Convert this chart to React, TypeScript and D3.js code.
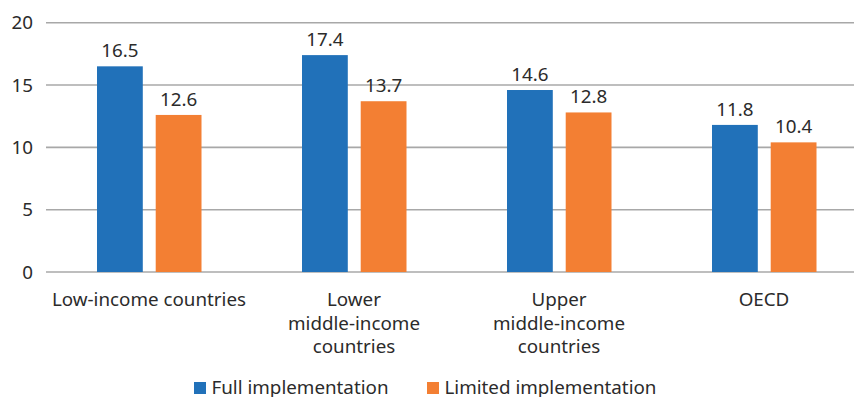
import React from "react";
import * as d3 from "d3";

const categories: string[][] = [
  ["Low-income countries"],
  ["Lower", "middle-income", "countries"],
  ["Upper", "middle-income", "countries"],
  ["OECD"],
];
const seriesNames = ["Full implementation", "Limited implementation"];
const fullValues = [16.5, 17.4, 14.6, 11.8];
const limitedValues = [12.6, 13.7, 12.8, 10.4];
const yTicks = [0, 5, 10, 15, 20];

const colors = ["#2171b9", "#f37f33"];
const W = 854;
const H = 397;
const FONT = "'Noto Sans', 'Open Sans', sans-serif";
const FS = 18.8;

export default function App() {
  const keys = categories.map((c) => c.join(" "));
  const x = d3.scaleBand<string>().domain(keys).range([46.5, 866.5]).padding(0);
  const inner = d3
    .scaleBand<string>()
    .domain(seriesNames)
    .range([0, 104.5])
    .paddingInner(0.22)
    .paddingOuter(0);
  const y = d3.scaleLinear().domain([0, 20]).range([272, 22.7]);
  const series = [fullValues, limitedValues];

  return (
    <svg
      width={W}
      height={H}
      style={{ position: "absolute", left: 0, top: 0, background: "#fff" }}
      fontFamily={FONT}
    >
      {yTicks.map((t) => (
        <g key={t}>
          <line x1={46} x2={854} y1={y(t)} y2={y(t)} stroke="#a8a8a8" strokeWidth={1.6} />
          <text x={33} y={y(t)} dy="0.35em" textAnchor="end" fontSize={FS} fill="#2b2b2b">
            {t}
          </text>
        </g>
      ))}
      {keys.map((k, i) => {
        const cx = (x(k) as number) + x.bandwidth() / 2;
        const gx = cx - 52;
        return (
          <g key={k}>
            {seriesNames.map((s, j) => {
              const v = series[j][i];
              const bx = gx + (inner(s) as number);
              return (
                <g key={s}>
                  <rect
                    x={bx}
                    y={y(v)}
                    width={inner.bandwidth()}
                    height={y(0) - y(v)}
                    fill={colors[j]}
                  />
                  <text
                    x={bx + inner.bandwidth() / 2}
                    y={y(v) - 9}
                    textAnchor="middle"
                    fontSize={FS}
                    fill="#2b2b2b"
                  >
                    {v.toFixed(1)}
                  </text>
                </g>
              );
            })}
            <text textAnchor="middle" fontSize={FS} fill="#2b2b2b">
              {categories[i].map((line, li) => (
                <tspan key={li} x={cx} y={306 + li * 23.5}>
                  {line}
                </tspan>
              ))}
            </text>
          </g>
        );
      })}
      {seriesNames.map((s, j) => {
        const lx = j === 0 ? 194 : 427;
        return (
          <g key={s}>
            <rect x={lx} y={382} width={12} height={12} fill={colors[j]} />
            <text x={lx + 17.5} y={394} fontSize={FS} fill="#2b2b2b">
              {s}
            </text>
          </g>
        );
      })}
    </svg>
  );
}
